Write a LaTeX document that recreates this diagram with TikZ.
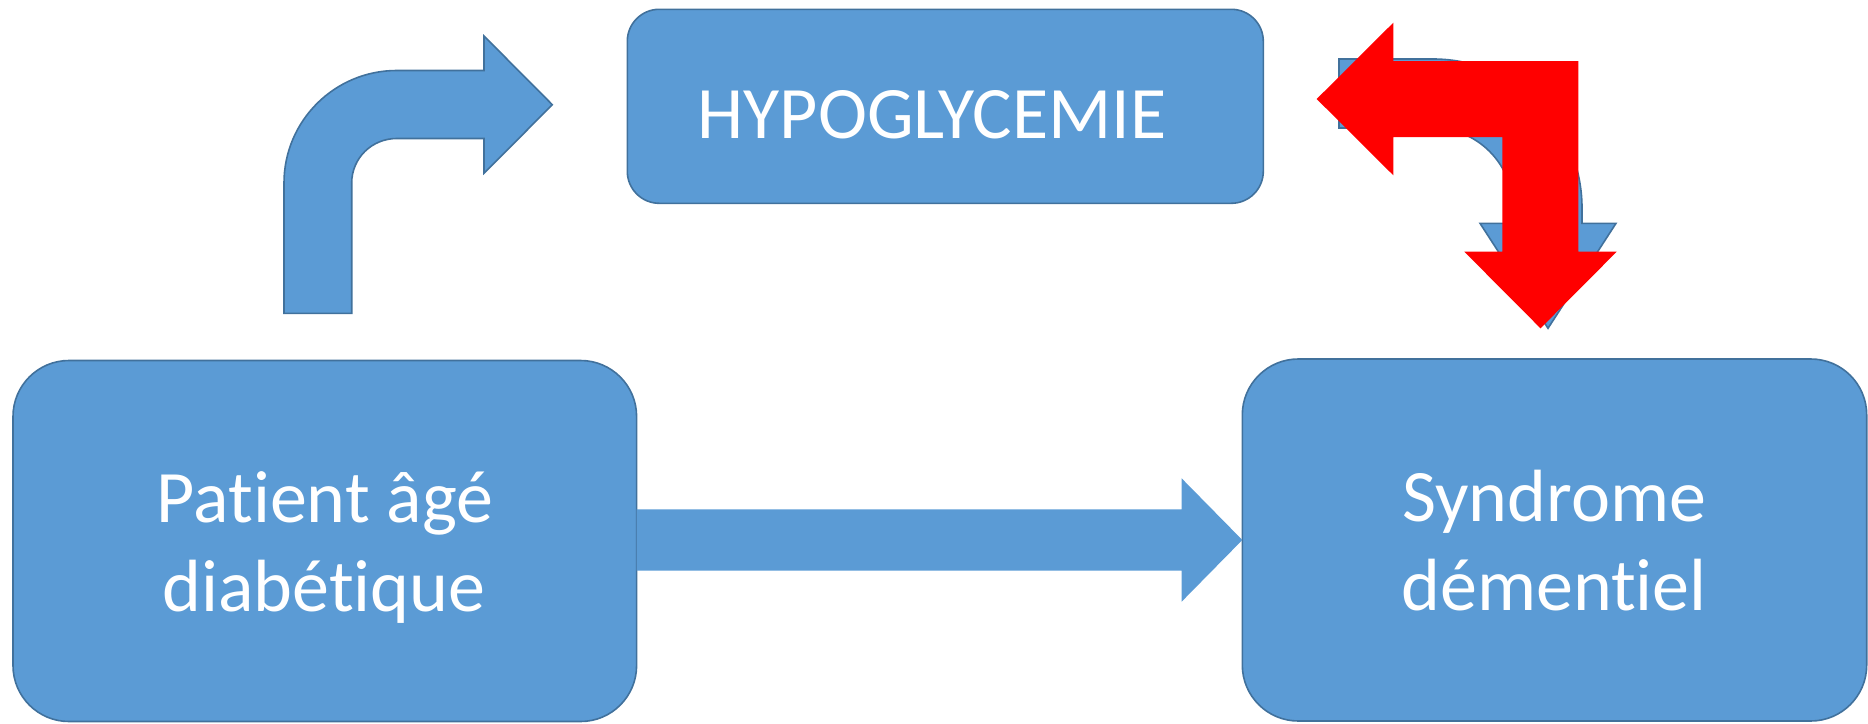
\documentclass[tikz,border=0pt]{standalone}
\usepackage{fontspec}
\setmainfont[Ligatures=NoCommon]{Carlito}
\usetikzlibrary{calc}
\definecolor{boxblue}{HTML}{5B9BD5}
\definecolor{edgeblue}{HTML}{41719C}
\definecolor{arrred}{HTML}{FF0000}
\tikzset{
  box/.style={draw=edgeblue, fill=boxblue, line width=0.8pt, inner sep=0pt, outer sep=0pt},
  bigbox/.style={box, rounded corners=28pt},
  smallbox/.style={box, rounded corners=16pt},
  txt/.style={text=white, font=\fontsize{37}{44}\selectfont, anchor=base, inner sep=0pt},
  flow/.style={fill=boxblue},
  bent/.style={fill=boxblue, draw=edgeblue, line width=0.8pt, line join=miter},
  redarrow/.style={fill=arrred}
}
\begin{document}
\begin{tikzpicture}[x=0.5pt,y=-0.5pt]
\useasboundingbox (0,0) rectangle (1868,723);

% boxes
\node[bigbox, minimum width=311.8pt, minimum height=180.5pt] (pat) at (324.8,541) {};
\node[bigbox, minimum width=312.2pt, minimum height=181pt] (syn) at (1554.5,540) {};
\node[smallbox, minimum width=318pt, minimum height=97pt] (hypo) at (945.3,106.3) {};

% texts
\node[txt] (hypoT) at (932,138.3) {HYPOGLYCEMIE};
\node[txt] (patT1) at (325,522.7) {Patient âgé};
\node[txt] (patT2) at (324,611.7) {diabétique};
\node[txt] (synT1) at (1554,521.7) {Syndrome};
\node[txt] (synT2) at (1554,610) {démentiel};

% straight arrow from patient to syndrome
\path (syn.west) ++(-60.7,-30.7) coordinate (a1) ++(0,61.4) coordinate (a2);
\fill[flow] (pat.east |- a1) -- (a1) -- ++(0,-31) -- (syn.west) -- ($(a2)+(0,31)$) -- (a2) -- (pat.east |- a2) -- cycle;

% bent arrow from patient up to hypoglycemie
\coordinate (b0) at (284,313.3);
\coordinate (bt) at (552.3,104.7);
\draw[bent] (b0) -- (284,183) .. controls (284,120.9) and (334.6,70.5) .. (396.7,70.5)
  -- (484,70.5) -- (484,36) -- (bt) -- (484,173.3) -- (484,138.5) -- (396.7,138.5)
  .. controls (371.85,138.5) and (351.7,158.15) .. (351.7,183) -- (351.7,313.3) -- cycle;

% blue bent arrow from hypoglycemie down to syndrome (behind)
\coordinate (c0) at (1339,59);
\coordinate (ct) at (1548,328.3);
\draw[bent] (c0) -- (1433,59) .. controls (1515.3,59) and (1582,125.7) .. (1582,208)
  -- (1582,223.3) -- (1616,223.3) -- (ct) -- (1480,223.3) -- (1513,223.3) -- (1513,208)
  .. controls (1513,163.8) and (1477.2,128) .. (1433,128) -- (1339,128) -- cycle;

% red double bent arrow
\coordinate (r0) at (1316.7,99);
\coordinate (r1) at (1540.5,328.3);
\fill[redarrow] (r0) -- (1393.3,22.7) -- (1393.3,61) -- (1578.3,61) -- (1578.3,251.7)
  -- (1616.7,251.7) -- (r1) -- (1464.3,251.7) -- (1502.3,251.7) -- (1502.3,137)
  -- (1393.3,137) -- (1393.3,175.3) -- cycle;
\end{tikzpicture}
\end{document}
